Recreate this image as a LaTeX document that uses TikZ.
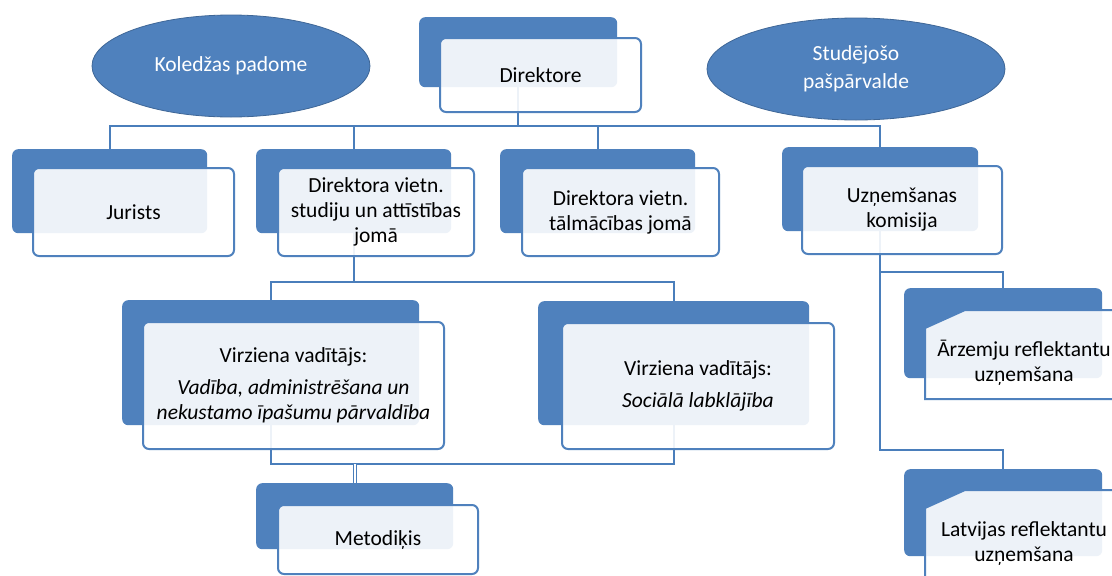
\documentclass[tikz,border=0pt]{standalone}
\usepackage{fontspec}
\setmainfont{Carlito}
\usepackage{tikz}
\usetikzlibrary{shapes.geometric}
\definecolor{sablue}{HTML}{4F81BD}
\definecolor{saline}{HTML}{4A7EBB}

\begin{document}
\begin{tikzpicture}[x=1pt,y=-1pt,
  backbox/.style={anchor=north west,inner sep=0pt,fill=sablue,rounded corners=6pt},
  frontbox/.style={anchor=north west,inner sep=0pt,draw=sablue,line width=2pt,fill=white,fill opacity=0.9,text opacity=1,rounded corners=6pt,align=center,font=\fontsize{21.5}{25}\selectfont},
  cutbox/.style={draw=sablue,line width=2pt,fill=white,fill opacity=0.9},
  boxtext/.style={inner sep=0pt,align=center,font=\fontsize{21.5}{25}\selectfont},
  oval/.style={ellipse,inner sep=0pt,fill=sablue,draw=sablue!80!black,line width=0.8pt,text=white,align=center,font=\fontsize{21.5}{28}\selectfont},
  link/.style={draw=saline,line width=2pt}]
\useasboundingbox (0,0) rectangle (1112,576);
\clip (0,0) rectangle (1112,576);
\fill[white] (0,0) rectangle (1112,576);

\node[oval,minimum width=278pt,minimum height=102pt] (kol) at (231,66) {Koledžas padome};
\node[oval,minimum width=298pt,minimum height=102pt] (stud) at (856,69) {Studējošo\\pašpārvalde};

\node[backbox,minimum width=198pt,minimum height=70pt] (dirB) at (419,17) {};
\node[backbox,minimum width=195pt,minimum height=84pt] (jurB) at (12,149) {};
\node[backbox,minimum width=195pt,minimum height=84pt] (stuB) at (256,149) {};
\node[backbox,minimum width=195pt,minimum height=84pt] (talB) at (500,149) {};
\node[backbox,minimum width=196pt,minimum height=84pt] (uznB) at (782,147) {};
\node[backbox,minimum width=297pt,minimum height=125pt] (virAB) at (122,300) {};
\node[backbox,minimum width=271pt,minimum height=124pt] (virBB) at (538,301) {};
\node[backbox,minimum width=197pt,minimum height=66pt] (metB) at (256,483) {};
\node[backbox,minimum width=198pt,minimum height=90pt] (arzB) at (904,288) {};
\node[backbox,minimum width=198pt,minimum height=87pt] (latB) at (904,469) {};

\draw[link] (dirB.south) -- ++(0,39) -| (jurB.north);
\draw[link] (dirB.south) -- ++(0,39) -| (stuB.north);
\draw[link] (dirB.south) -- ++(0,39) -| (talB.north);
\draw[link] (dirB.south) -- ++(0,39) -| (uznB.north);
\draw[link] (stuB.south) -- ++(0,49) -| (virAB.north);
\draw[link] (stuB.south) -- ++(0,49) -| (virBB.north);
\draw[link] (virAB.south) -- ++(0,39) -| (virBB.south);
\draw[link,double,double distance=2pt,line width=1pt] (metB.north) -- ++(0,-19);
\draw[link] (uznB.south) -- ++(0,41) -| (arzB.north);
\draw[link] (uznB.south) -- ++(0,219) -| (latB.north);

\node[frontbox,minimum width=201pt,minimum height=74pt] (dirF) at (439,37) {Direktore};
\node[frontbox,minimum width=201pt,minimum height=88pt] (jurF) at (32,167) {Jurists};
\node[frontbox,minimum width=196pt,minimum height=88pt] (stuF) at (277,167) {Direktora vietn.\\studiju un attīstības\\jomā};
\node[frontbox,minimum width=197pt,minimum height=88pt] (talF) at (521,167) {Direktora vietn.\\tālmācības jomā};
\node[frontbox,minimum width=200pt,minimum height=88pt] (uznF) at (801,165) {Uzņemšanas\\komisija};
\node[frontbox,minimum width=301pt,minimum height=127pt] (virAF) at (142,321) {Virziena vadītājs:\\[7pt]\textit{Vadība, administrēšana un}\\\textit{nekustamo īpašumu pārvaldība}};
\node[frontbox,minimum width=272pt,minimum height=126pt] (virBF) at (561,322) {Virziena vadītājs:\\[7pt]\textit{Sociālā labklājība}};
\node[frontbox,minimum width=200pt,minimum height=69pt] (metF) at (277,504) {Metodiķis};

\filldraw[cutbox] (925,328) -- (965,310) -- (1130,310) -- (1130,399) -- (925,399) -- cycle;
\filldraw[cutbox] (925,508) -- (965,490) -- (1130,490) -- (1130,590) -- (925,590) -- cycle;
\node[boxtext] (arzT) at (1024,363) {Ārzemju reflektantu\\uzņemšana};
\node[boxtext] (latT) at (1024,543) {Latvijas reflektantu\\uzņemšana};
\end{tikzpicture}
\end{document}
